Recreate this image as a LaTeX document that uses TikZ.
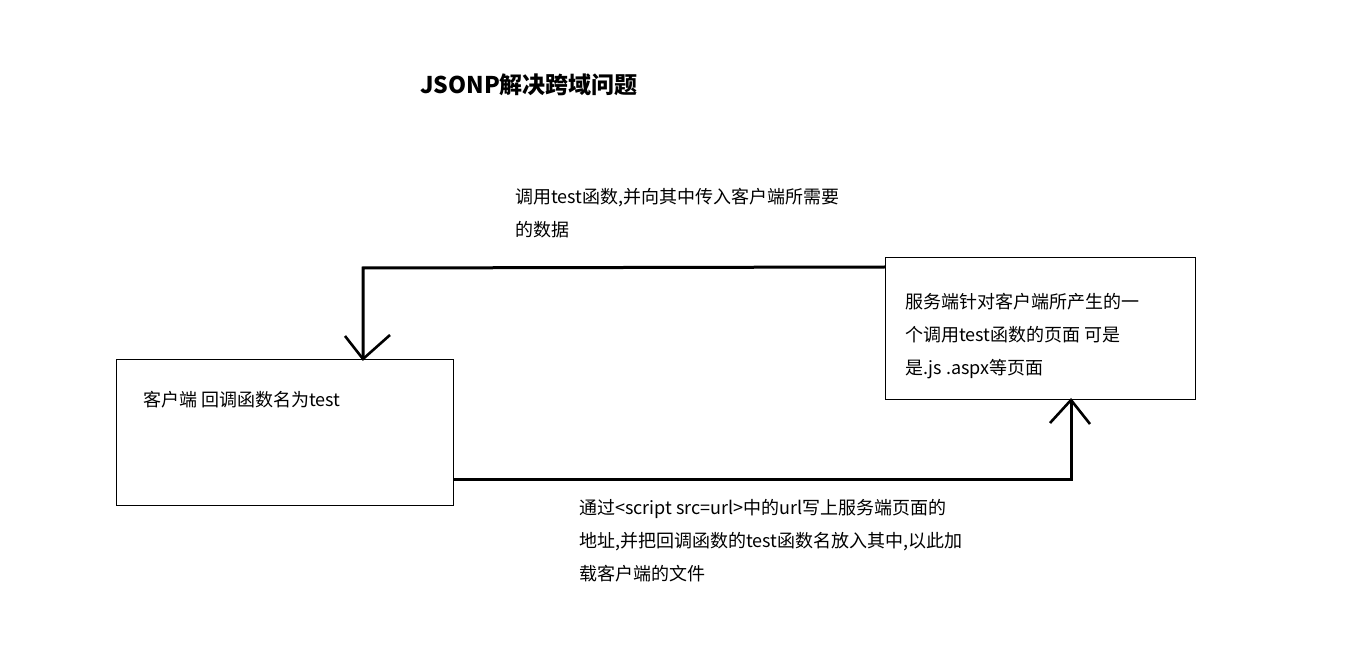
\documentclass[tikz,border=0pt]{standalone}
\usepackage{fontspec}
\newfontfamily\cjk{Noto Sans CJK SC}
\usetikzlibrary{positioning}
\begin{document}
\begin{tikzpicture}[x=1pt,y=-1pt,
  box/.style={draw,line width=1pt,inner sep=0pt},
  conn/.style={line width=3pt},
  head/.style={line width=2.6pt},
  txt/.style={anchor=north west,align=left,inner sep=0pt,font=\cjk\fontsize{18}{33}\selectfont}]
\useasboundingbox[fill=white] (0,0) rectangle (1347,660);
% title
\node[anchor=center,inner sep=0pt,font=\cjk\bfseries\fontsize{23}{26}\selectfont] (title) at (529,85) {JSONP解决跨域问题};
% boxes
\node[box,minimum width=337pt,minimum height=146pt,anchor=north west] (client) at (116,359) {};
\node[box,minimum width=310pt,minimum height=142pt,anchor=north west] (server) at (885,257) {};
% texts
\node[txt,anchor=west] (ctext) at (143,400) {客户端 回调函数名为test};
\node[txt] (stext) at (905,293) {服务端针对客户端所产生的一\\个调用test函数的页面 可是\\是.js .aspx等页面};
\node[txt] (ttext) at (515,188) {调用test函数,并向其中传入客户端所需要\\的数据};
\node[txt] (btext) at (579,499) {通过<script src=url>中的url写上服务端页面的\\地址,并把回调函数的test函数名放入其中,以此加\\载客户端的文件};
% connectors
\coordinate (tc) at (363,268);
\coordinate (bc) at (1071,479);
\draw[conn] (server.north west |- 0,267) -- (tc) -- (tc |- client.north);
\draw[head] (345,336) -- (tc |- client.north) -- (390,335);
\draw[conn] (client.east |- 0,479) -- (bc) -- (bc |- server.south);
\draw[head] (1050,423) -- (bc |- server.south) -- (1090,424);
\end{tikzpicture}
\end{document}
